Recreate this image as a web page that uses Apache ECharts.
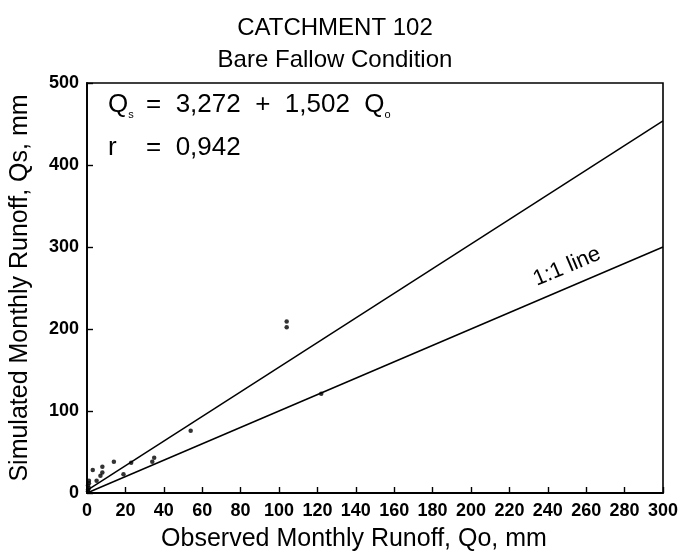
<!DOCTYPE html>
<html lang="en">
<head>
	<meta charset="UTF-8">
	<title>catchment 102</title>
	<style>
		html, body{ margin:0; padding:0; background:#fff; }
		#chart{ width:682px; height:557px; }
	</style>
</head>
<body>
	<div id="chart"></div>
	<script type="text/javascript" src="https://cdn.jsdelivr.net/npm/echarts@6/dist/echarts.min.js"></script>
	<script>

		// observed vs simulated monthly runoff (mm)
		var observed  = [0.5, 0.5, 1, 0.5, 1, 1, 3, 5, 7, 8, 8, 14, 19, 23, 34, 35, 54, 104, 104, 122];
		var simulated = [2, 4, 6, 9, 12, 15, 28, 15, 21, 25, 32, 38, 23, 37, 38, 43, 76, 202, 209, 121];

		// end points of the two lines
		var regLine = [[0, 3.272], [300, 453.9]];
		var oneToOne = [[0, 0], [300, 300]];

		var xTicks = [0, 20, 40, 60, 80, 100, 120, 140, 160, 180, 200, 220, 240, 260, 280, 300];
		var yTicks = [0, 100, 200, 300, 400, 500];

		var font = 'Liberation Sans, Arial, sans-serif';

		var points = [];
		for(var i = 0; i < observed.length; i++){
			points.push([observed[i], simulated[i]]);
		}

		var myChart = echarts.init(document.getElementById('chart'));

		var axisStyle = {
			lineStyle: { color: '#000', width: 1.8 }
		};

		var option = {
			backgroundColor: '#fff',
			animation: false,
			grid: {
				left: 81, right: 19, top: 83, bottom: 62,
				show: true,
				borderColor: '#000',
				borderWidth: 1.6
			},
			xAxis: {
				type: 'value',
				min: xTicks[0], max: xTicks[xTicks.length - 1], interval: 20,
				axisLine: axisStyle,
				axisTick: { inside: true, length: 6, lineStyle: { color: '#000', width: 1.4 } },
				splitLine: { show: false },
				axisLabel: { color: '#000', fontFamily: font, fontWeight: 'bold', fontSize: 18, margin: 9 },
				name: 'Observed Monthly Runoff, Qo, mm',
				nameLocation: 'middle',
				nameGap: 34,
				nameTextStyle: { color: '#000', fontFamily: font, fontSize: 25, padding: [0, 42, 0, 0] }
			},
			yAxis: {
				type: 'value',
				min: yTicks[0], max: yTicks[yTicks.length - 1], interval: 100,
				axisLine: axisStyle,
				axisTick: { inside: true, length: 6, lineStyle: { color: '#000', width: 1.4 } },
				splitLine: { show: false },
				axisLabel: { color: '#000', fontFamily: font, fontWeight: 'bold', fontSize: 18, margin: 8 },
				name: 'Simulated Monthly Runoff, Qs, mm',
				nameLocation: 'middle',
				nameGap: 54,
				nameRotate: 90,
				nameTextStyle: { color: '#000', fontFamily: font, fontSize: 25 }
			},
			series: [
				{
					name: 'regression',
					type: 'line',
					data: regLine,
					symbol: 'none',
					lineStyle: { color: '#000', width: 1.5 }
				},
				{
					name: '1:1',
					type: 'line',
					data: oneToOne,
					symbol: 'none',
					lineStyle: { color: '#000', width: 1.5 }
				},
				{
					name: 'months',
					type: 'scatter',
					data: points,
					symbolSize: 4.5,
					itemStyle: { color: '#000' }
				}
			]
		};

		myChart.setOption(option);

		var lblPos = myChart.convertToPixel({ gridIndex: 0 }, [250, 276]);

		var eqRich = {
			a: { fontFamily: font, fontSize: 26, color: '#000', lineHeight: 30 },
			s: { fontFamily: font, fontSize: 11, color: '#000', verticalAlign: 'bottom', lineHeight: 30 }
		};

		myChart.setOption({
			graphic: [
				{
					type: 'text', x: 335, y: 28,
					style: { text: 'CATCHMENT 102', font: '24px ' + font, fill: '#000', align: 'center', verticalAlign: 'middle' }
				},
				{
					type: 'text', x: 335, y: 60,
					style: { text: 'Bare Fallow Condition', font: '24px ' + font, fill: '#000', align: 'center', verticalAlign: 'middle' }
				},
				{
					type: 'text', x: 108, y: 105,
					style: { text: '{a|Q}{s|s}', verticalAlign: 'middle', rich: eqRich }
				},
				{
					type: 'text', x: 146, y: 105,
					style: { text: '{a|=  3,272  +  1,502  Q}{s|o}', verticalAlign: 'middle', rich: eqRich }
				},
				{
					type: 'text', x: 108, y: 148,
					style: { text: 'r', font: '26px ' + font, fill: '#000', verticalAlign: 'middle' }
				},
				{
					type: 'text', x: 146, y: 148,
					style: { text: '=  0,942', font: '26px ' + font, fill: '#000', verticalAlign: 'middle' }
				},
				{
					type: 'text', x: lblPos[0], y: lblPos[1],
					rotation: 23 * Math.PI / 180,
					style: { text: '1:1 line', font: '22px ' + font, fill: '#000', align: 'center', verticalAlign: 'middle', backgroundColor: '#fff' }
				}
			]
		});

	</script>
</body>
</html>
